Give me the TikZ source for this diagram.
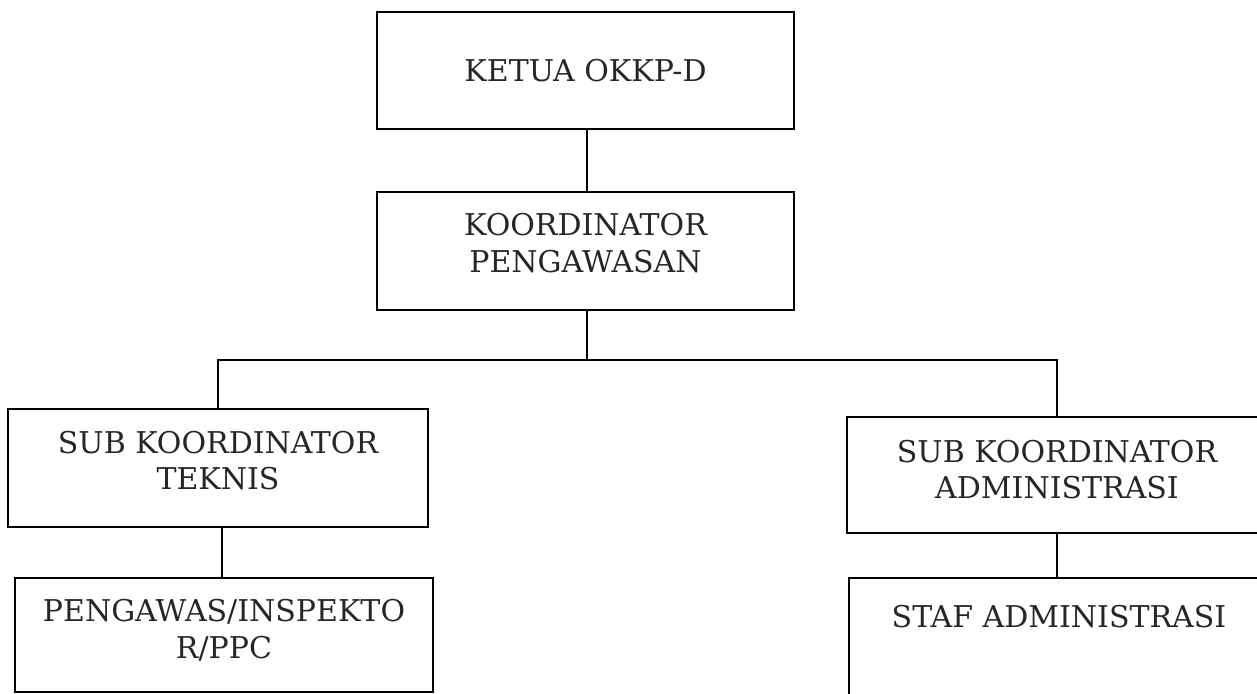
\documentclass[tikz,border=0pt]{standalone}
\usepackage{fontspec}
\setmainfont{DejaVu Serif}
\usepackage{tikz}

\begin{document}
\begin{tikzpicture}[x=0.5pt,y=-0.5pt,
	box/.style={draw, line width=0.9pt, rectangle, align=center, inner sep=0pt, font=\fontsize{15}{18.3}\selectfont, text=black!85},
	link/.style={line width=0.8pt}]
	\useasboundingbox (0,0) rectangle (1257,694);
	\node[box, minimum width=208.5pt, minimum height=58.5pt, text depth=-3pt] (ketua) at (585.5,70.5) {KETUA OKKP-D};
	\node[box, minimum width=208.5pt, minimum height=59pt, text depth=8pt] (koor) at (585.5,251) {KOORDINATOR\\PENGAWASAN};
	\node[box, minimum width=210pt, minimum height=59pt, text depth=7.5pt] (teknis) at (218,468) {SUB KOORDINATOR\\TEKNIS};
	\node[box, minimum width=210pt, minimum height=58pt, text depth=5.5pt] (admin) at (1057,475) {SUB KOORDINATOR\\ADMINISTRASI};
	\node[box, minimum width=209pt, minimum height=57pt, text depth=6pt] (pengawas) at (224,635) {PENGAWAS/INSPEKTO\\R/PPC};
	\node[box, minimum width=210pt, minimum height=61pt, text depth=23pt] (staf) at (1059,639) {STAF ADMINISTRASI};
	\coordinate (bus) at (587,360);

	% ketua to koordinator
	\draw[link] (ketua.south -| bus) -- (koor.north -| bus);
	\draw[link] (koor.south -| bus) -- (bus);
	% sub koordinator
	\draw[link] (teknis.north) |- (bus) -| (admin.north);
	% staf
	\draw[link] (teknis.south -| 222,0) -- (pengawas.north -| 222,0);
	\draw[link] (admin.south) -- (staf.north -| admin.south);
\end{tikzpicture}
\end{document}
